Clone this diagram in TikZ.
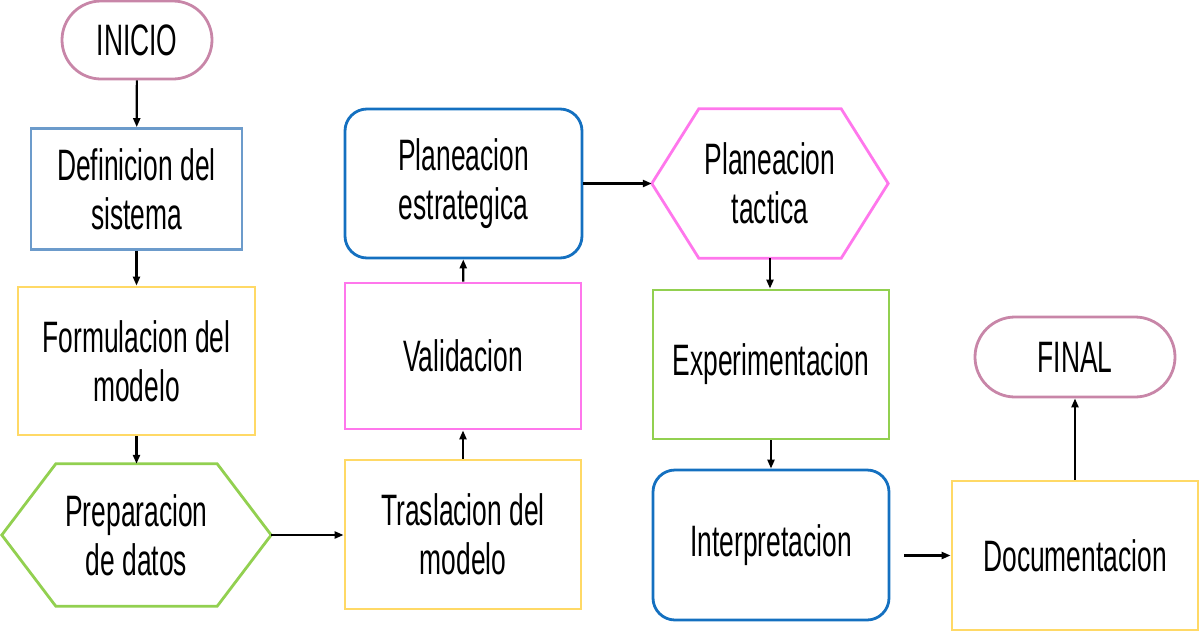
\documentclass[tikz,border=0pt]{standalone}
\usepackage{fontspec}
\setmainfont{Liberation Sans}[FakeStretch=0.6]
\usetikzlibrary{arrows.meta}
\definecolor{cmauve}{RGB}{200,134,168}
\definecolor{csteel}{RGB}{108,155,203}
\definecolor{cyellow}{RGB}{255,217,102}
\definecolor{cgreen}{RGB}{146,208,80}
\definecolor{cmag}{RGB}{255,119,236}
\definecolor{cblue}{RGB}{20,112,192}
\begin{document}
\begin{tikzpicture}[x=1pt,y=-1pt,
 every node/.style={font=\fontsize{44}{49}\selectfont, align=center, inner sep=0pt},
 boxnode/.style={draw, line width=2.8pt, rectangle},
 pill/.style={boxnode, draw=cmauve, rounded corners=39pt},
 rbox/.style={boxnode, draw=cblue, rounded corners=22pt},
 hexnode/.style={rectangle, draw=none},
 hexline/.style={line width=2.8pt},
 conn/.style={line width=2.2pt, -{Triangle[length=9pt,width=7pt]}},
]
\useasboundingbox (0,0) rectangle (1200,630);

\node[pill, minimum width=150pt, minimum height=78pt] (inicio) at (137,40) {INICIO};
\node[boxnode, draw=csteel, minimum width=211pt, minimum height=121pt] (def) at (136.5,189) {Definicion del\\sistema};
\node[boxnode, draw=cyellow, minimum width=237pt, minimum height=148pt] (form) at (136.5,361) {Formulacion del\\modelo};
\node[hexnode, minimum width=269pt, minimum height=142pt] (prep) at (136.5,535) {Preparacion\\de datos};
\draw[hexline, draw=cgreen] ([xshift=54pt]prep.north west) -- ([xshift=-54pt]prep.north east) -- (prep.east) -- ([xshift=-54pt]prep.south east) -- ([xshift=54pt]prep.south west) -- (prep.west) -- cycle;

\node[boxnode, draw=cyellow, minimum width=236pt, minimum height=149pt] (trasl) at (463,534.5) {Traslacion del\\modelo};
\node[boxnode, draw=cmag, minimum width=236pt, minimum height=146pt] (valid) at (463,356) {Validacion};
\node[rbox, minimum width=237pt, minimum height=149pt] (plane) at (463.5,183.5) {Planeacion\\estrategica};

\node[hexnode, minimum width=236pt, minimum height=149pt] (plant) at (770,183.5) {Planeacion\\tactica};
\draw[hexline, draw=cmag] ([xshift=47pt]plant.north west) -- ([xshift=-47pt]plant.north east) -- (plant.east) -- ([xshift=-47pt]plant.south east) -- ([xshift=47pt]plant.south west) -- (plant.west) -- cycle;

\node[boxnode, draw=cgreen, minimum width=236pt, minimum height=149pt] (exper) at (771,364.5) {Experimentacion};
\node[rbox, minimum width=236pt, minimum height=150pt] (interp) at (771,545) {Interpretacion};
\node[boxnode, draw=cyellow, minimum width=246pt, minimum height=149pt] (docu) at (1075,555.5) {Documentacion};
\node[pill, minimum width=200pt, minimum height=80pt, rounded corners=40pt] (final) at (1075,357) {FINAL};

\draw[conn] (inicio) -- (def);
\draw[conn] (def) -- (form);
\draw[conn] (form) -- (prep);
\draw[conn] (prep.east) -- (prep.east -| trasl.west);
\draw[conn] (trasl) -- (valid);
\draw[conn] (valid) -- (plane);
\draw[conn] (plane.east) -- (plant.west);
\draw[conn] (plant.south) -- (plant.south |- exper.north);
\draw[conn] (exper.south -| interp.north) -- (interp.north);
\draw[conn, shorten <=14pt] (interp.east |- docu.west) -- (docu.west);
\draw[conn] (docu) -- (final);
\end{tikzpicture}
\end{document}
